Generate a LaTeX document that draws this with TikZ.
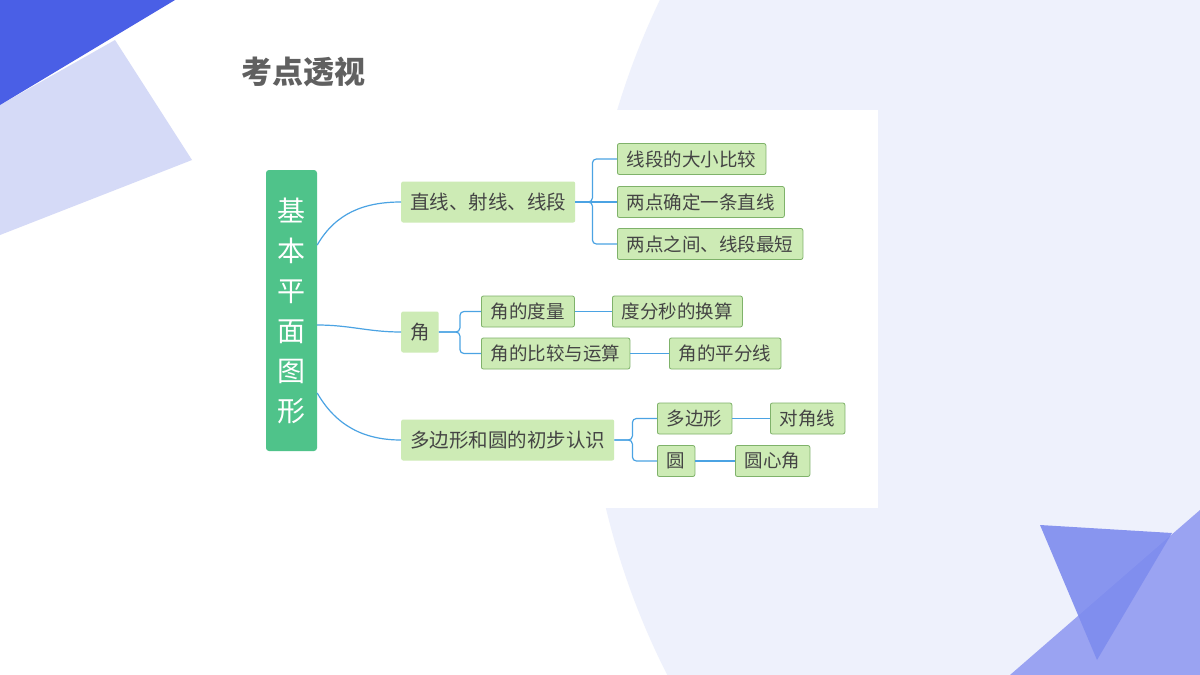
\documentclass[tikz,border=0pt]{standalone}
\usepackage{fontspec}
\newfontfamily\cjk{Noto Sans CJK SC}
\definecolor{deepblue}{HTML}{4A5FE6}
\definecolor{paleblue}{HTML}{D5DAF7}
\definecolor{bgcircle}{HTML}{EEF1FC}
\definecolor{midblue}{HTML}{9AA3F2}
\definecolor{triblue}{HTML}{7E8CEE}
\definecolor{rootgreen}{HTML}{4FC38A}
\definecolor{leafgreen}{HTML}{CDEBB5}
\definecolor{leafline}{HTML}{7FB26A}
\definecolor{linkblue}{HTML}{4BA3E3}
\definecolor{txtgray}{HTML}{444444}
\begin{document}
\begin{tikzpicture}[x=1pt,y=-1pt,
  topic/.style={fill=leafgreen, rounded corners=2pt, anchor=west, inner xsep=9pt,
    minimum height=41pt, font=\cjk\fontsize{19.5}{19.5}\selectfont, text=txtgray},
  leaf/.style={topic, draw=leafline, line width=0.8pt, minimum height=31pt, inner xsep=9.5pt,
    font=\cjk\fontsize{18.5}{18.5}\selectfont},
  link/.style={draw=linkblue, line width=1.2pt},
  fork/.style={link, rounded corners=4pt}]
\useasboundingbox (0,0) rectangle (1200,675);
% background
\fill[white] (0,0) rectangle (1200,675);
\begin{scope}
\clip (0,0) rectangle (1200,675);
\fill[bgcircle] (1348,330) circle (763);
\end{scope}
\fill[paleblue] (0,105) -- (115,40) -- (192,160) -- (0,235) -- cycle;
\fill[deepblue] (0,0) -- (175,0) -- (0,105) -- cycle;
\fill[midblue] (1010,675) -- (1200,510) -- (1200,675) -- cycle;
\fill[triblue, opacity=0.9] (1040,525) -- (1172,533) -- (1097,660) -- cycle;
\fill[white] (200,110) rectangle (878,508);
% title
\node[anchor=west, font=\cjk\bfseries\fontsize{31}{31}\selectfont, text=txtgray!85] (title) at (238,72) {考点透视};
% root
\node[fill=rootgreen, rounded corners=3pt, minimum width=51pt, minimum height=281pt,
  text=white, font=\cjk\fontsize{28}{40}\selectfont, align=center, text width=30pt] (root) at (291.5,310.5)
  {基\\本\\平\\面\\图\\形};
% level one
\node[topic] (line) at (401,202) {直线、射线、线段};
\node[topic] (angle) at (401,332) {角};
\node[topic] (poly) at (401,440) {多边形和圆的初步认识};
% level two
\node[leaf] (cmp) at (617,159) {线段的大小比较};
\node[leaf] (two) at (617,202) {两点确定一条直线};
\node[leaf] (short) at (617,244) {两点之间、线段最短};
\node[leaf] (meas) at (481,311.5) {角的度量};
\node[leaf] (dms) at (612,311.5) {度分秒的换算};
\node[leaf] (oper) at (481,353.5) {角的比较与运算};
\node[leaf] (bis) at (669,353.5) {角的平分线};
\node[leaf] (pgon) at (657,418.5) {多边形};
\node[leaf] (diag) at (770,418.5) {对角线};
\node[leaf] (circ) at (657,461) {圆};
\node[leaf] (cang) at (735,461) {圆心角};
% links
\draw[link] (root.east |- 0,245) to[out=60,in=180] (line.west);
\draw[link] (root.east |- 0,325) to[out=0,in=180] (angle.west);
\draw[link] (root.east |- 0,393) to[out=-60,in=180] (poly.west);
\draw[fork] (line.east) -- ++(17,0) |- (cmp.west);
\draw[fork] (line.east) -- ++(17,0) |- (short.west);
\draw[link] (line.east) -- (two.west);
\draw[fork] (angle.east) -- ++(21,0) |- (meas.west);
\draw[fork] (angle.east) -- ++(21,0) |- (oper.west);
\draw[fork] (poly.east) -- ++(18,0) |- (pgon.west);
\draw[fork] (poly.east) -- ++(18,0) |- (circ.west);
\draw[link] (meas.east) -- (dms.west);
\draw[link] (oper.east) -- (bis.west);
\draw[link] (pgon.east) -- (diag.west);
\draw[link] (circ.east) -- (cang.west);
\end{tikzpicture}
\end{document}
